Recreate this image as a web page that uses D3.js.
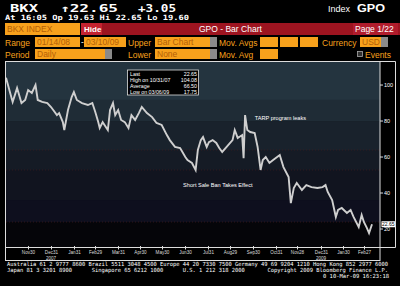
<!DOCTYPE html>
<html><head><meta charset="utf-8">
<script src="https://cdn.jsdelivr.net/npm/d3@7/dist/d3.min.js"></script>
<style>body{margin:0;background:#000;overflow:hidden;} svg{display:block;}</style>
</head><body><script>
// BKX daily closes
var dates = ["2007-10-31","2007-11-09","2007-11-15","2007-11-21","2007-11-26","2007-11-30","2007-12-05","2007-12-10","2007-12-13","2007-12-19",
  "2007-12-26","2007-12-31","2008-01-03","2008-01-08","2008-01-11","2008-01-16","2008-01-18","2008-01-23","2008-01-28","2008-01-31",
  "2008-02-04","2008-02-11","2008-02-19","2008-02-25","2008-02-29","2008-03-04","2008-03-06","2008-03-10","2008-03-17","2008-03-20",
  "2008-03-24","2008-03-27","2008-03-31","2008-04-04","2008-04-09","2008-04-14","2008-04-18","2008-04-23","2008-04-28","2008-05-02",
  "2008-05-09","2008-05-16","2008-05-22","2008-05-29","2008-06-05","2008-06-09","2008-06-16","2008-06-23","2008-06-30","2008-07-03",
  "2008-07-09","2008-07-14","2008-07-17","2008-07-21","2008-07-24","2008-07-29","2008-08-01","2008-08-06","2008-08-11","2008-08-15",
  "2008-08-19","2008-08-25","2008-09-02","2008-09-05","2008-09-09","2008-09-15","2008-09-17","2008-09-19","2008-09-22","2008-09-26",
  "2008-10-02","2008-10-06","2008-10-10","2008-10-13","2008-10-17","2008-10-22","2008-10-27","2008-11-05","2008-11-10","2008-11-17",
  "2008-11-20","2008-11-24","2008-11-28","2008-12-05","2008-12-11","2008-12-18","2008-12-26","2009-01-02","2009-01-06","2009-01-09",
  "2009-01-15","2009-01-20","2009-01-23","2009-01-28","2009-02-04","2009-02-09","2009-02-13","2009-02-20","2009-02-24","2009-02-27",
  "2009-03-03","2009-03-06","2009-03-10"];
var closes = [104.1,90.6,98.3,90.0,91.7,97.2,95.6,100.0,91.7,90.6,
  90.0,87.8,86.1,83.3,84.4,79.4,75.0,86.1,93.3,96.1,
  91.7,90.0,88.9,90.0,85.0,79.4,76.1,79.4,75.0,86.1,
  90.0,83.3,86.1,80.6,79.4,76.1,83.3,80.6,84.4,87.8,
  84.4,82.2,78.9,77.8,72.2,69.4,65.6,65.0,60.0,58.3,
  56.7,52.8,63.9,69.4,71.1,65.6,68.3,69.4,67.8,65.0,
  62.8,65.6,69.4,75.0,70.6,72.2,59.4,83.3,75.0,73.9,
  73.3,65.6,52.8,58.3,60.0,56.7,58.3,61.1,54.4,48.9,
  34.4,42.8,45.6,41.7,44.4,43.3,42.8,43.3,44.4,40.6,
  36.1,26.7,30.6,31.7,28.9,30.6,26.7,21.1,27.8,23.9,
  20.6,17.75,22.65];

var tickDates = ["2007-11-30","2007-12-31","2008-01-31","2008-02-29","2008-03-31","2008-04-30","2008-05-30","2008-06-30",
  "2008-07-31","2008-08-29","2008-09-30","2008-10-31","2008-11-28","2008-12-31","2009-01-30","2009-02-27"];
var tickLabels = ["Nov30","Dec31","Jan31","Feb29","Mar31","Apr30","May30","Jun30",
  "Jul31","Aug29","Sep30","Oct31","Nov28","Dec31","Jan30","Feb27"];
var yearDates = ["2007-12-31","2008-12-31"];
var yearLabels = ["2007","2009"];
var yTicks = [20, 40, 60, 80, 100];

var statLabels = ["Last", "High on 10/31/07", "Average", "Low on 03/06/09"];
var statValues = ["22.65", "104.08", "66.50", "17.75"];

var noteTexts = ["TARP program leaks", "Short Sale Ban Takes Effect"];
var noteDates = ["2008-10-02", "2008-06-27"];
var noteValues = [80.5, 43.5];

var lastPrice = 22.65;

var parse = d3.timeParse("%Y-%m-%d");
var W = 400, H = 286;
var svg = d3.select("body").append("svg").attr("width", W).attr("height", H)
  .style("background", "#000");

var mono = "'DejaVu Sans Mono', monospace";
var sans = "'Liberation Sans', Arial, sans-serif";
var orange = "#f7a11c", boxText = "#b45f06", red = "#9d1420";

// ---- header ----
function head(px, t, len) {
  svg.append("text").attr("x", px).attr("y", 11.5).text(t)
    .attr("fill", "#fff").attr("font-family", mono).attr("font-weight", "bold").attr("font-size", 10)
    .attr("textLength", len).attr("lengthAdjust", "spacingAndGlyphs");
}
head(10, "BKX", 28);
head(60, "\u219122.65", 58);
head(138, "+3.05", 38);
svg.append("text").attr("x", 5).attr("y", 19.5).text("At 16:05  Op 19.63 Hi 22.65 Lo 19.60")
  .attr("fill", "#fff").attr("font-family", mono).attr("font-weight", "bold").attr("font-size", 7.2)
  .attr("textLength", 184).attr("lengthAdjust", "spacingAndGlyphs");
svg.append("text").attr("x", 328).attr("y", 12).text("Index")
  .attr("fill", "#fff").attr("font-family", sans).attr("font-size", 9);
svg.append("text").attr("x", 357).attr("y", 12).text("GPO")
  .attr("fill", "#fff").attr("font-family", sans).attr("font-weight", "bold").attr("font-size", 11)
  .attr("textLength", 28).attr("lengthAdjust", "spacingAndGlyphs");

// ---- control rows ----
svg.append("rect").attr("x", 5).attr("y", 23).attr("width", 75).attr("height", 12).attr("fill", orange);
svg.append("text").attr("x", 7).attr("y", 32).text("BKX INDEX").attr("fill", boxText)
  .attr("font-family", sans).attr("font-size", 8.5);
svg.append("rect").attr("x", 81).attr("y", 23).attr("width", 319).attr("height", 12).attr("fill", red);
svg.append("rect").attr("x", 81).attr("y", 23).attr("width", 21).attr("height", 12).attr("fill", "#c42230");
svg.append("text").attr("x", 84).attr("y", 32).text("Hide").attr("fill", "#fff")
  .attr("font-family", sans).attr("font-weight", "bold").attr("font-size", 8);
svg.append("text").attr("x", 199).attr("y", 32).text("GPO - Bar Chart").attr("fill", "#fff")
  .attr("font-family", sans).attr("font-size", 8.5);
svg.append("rect").attr("x", 353).attr("y", 23).attr("width", 45).attr("height", 12).attr("fill", "#b01c2c");
svg.append("text").attr("x", 355).attr("y", 32).text("Page 1/22").attr("fill", "#fff")
  .attr("font-family", sans).attr("font-size", 8.5);

function label(px, py, t) {
  svg.append("text").attr("x", px).attr("y", py).text(t).attr("fill", orange)
    .attr("font-family", sans).attr("font-size", 8.5);
}
function box(px, py, w, t, grey) {
  svg.append("rect").attr("x", px).attr("y", py).attr("width", w).attr("height", 10).attr("fill", orange);
  if (grey) svg.append("rect").attr("x", px + w - 7).attr("y", py).attr("width", 7).attr("height", 10).attr("fill", "#8a8a8a");
  if (t) svg.append("text").attr("x", px + 2).attr("y", py + 8).text(t).attr("fill", boxText)
    .attr("font-family", sans).attr("font-size", 8.5);
}
label(5, 45.5, "Range");
box(35, 37, 45, "01/14/08");
svg.append("text").attr("x", 81).attr("y", 45).text("-").attr("fill", "#fff").attr("font-family", sans).attr("font-size", 8.5);
box(84, 37, 42, "03/10/09");
label(128, 45.5, "Upper");
box(155, 37, 62, "Bar Chart", true);
label(219, 45.5, "Mov. Avgs");
box(260, 37, 18); box(280, 37, 18); box(300, 37, 18);
label(322, 45.5, "Currency");
box(360, 37, 28, "USD", true);

label(5, 57.5, "Period");
box(35, 49, 77, "Daily", true);
label(128, 57.5, "Lower");
box(155, 49, 62, "None", true);
label(219, 57.5, "Mov. Avg");
box(260, 49, 18);
svg.append("rect").attr("x", 357.5).attr("y", 51.5).attr("width", 5).attr("height", 5)
  .attr("fill", "#333").attr("stroke", "#aaa").attr("stroke-width", 0.8);
label(365, 57.5, "Events");

// ---- chart ----
var plotL = 6, plotR = 380, plotT = 62, plotB = 247;
var x = d3.scaleTime().domain([parse("2007-10-31"), parse("2009-03-10")]).range([6, 372]);
var y = d3.scaleLinear().domain([10, 112.8]).range([plotB, plotT]);

// banded background fading from slate to black
var bands = [
  [112.8, 91.7, "#24343f"], [91.7, 80, "#1f2c36"], [80, 63.9, "#19222c"],
  [63.9, 52.8, "#151b25"], [52.8, 36.1, "#11141f"], [36.1, 23.9, "#0e0f1e"], [23.9, 10, "#050509"]
];
svg.selectAll("rect.band").data(bands).enter().append("rect").attr("class", "band")
  .attr("x", plotL).attr("width", plotR - plotL)
  .attr("y", function(d) { return y(d[0]); })
  .attr("height", function(d) { return y(d[1]) - y(d[0]); })
  .attr("fill", function(d) { return d[2]; });
[63.9, 52.8, 23.9].forEach(function(v) {
  svg.append("line").attr("x1", plotL).attr("x2", plotR).attr("y1", y(v)).attr("y2", y(v))
    .attr("stroke", "#3a1c20").attr("stroke-dasharray", "1,2").attr("stroke-width", 0.8);
});

var series = dates.map(function(d, i) { return { date: parse(d), close: closes[i] }; });
var line = d3.line().x(function(d) { return x(d.date); }).y(function(d) { return y(d.close); });
svg.append("path").datum(series).attr("d", line).attr("fill", "none")
  .attr("stroke", "#cfcfcf").attr("stroke-width", 1.9).attr("stroke-linejoin", "miter");

// annotations
svg.selectAll("text.note").data(noteTexts).enter().append("text").attr("class", "note")
  .attr("x", function(d, i) { return x(parse(noteDates[i])); })
  .attr("y", function(d, i) { return y(noteValues[i]); })
  .text(function(d) { return d; })
  .attr("fill", "#fff").attr("font-family", sans).attr("font-size", 5.6);

// stats box
svg.append("rect").attr("x", 127.5).attr("y", 70).attr("width", 71).attr("height", 25)
  .attr("fill", "#000").attr("stroke", "#ddd").attr("stroke-width", 0.8);
statLabels.forEach(function(t, i) {
  svg.append("text").attr("x", 130).attr("y", 76 + i * 6).text(t)
    .attr("fill", "#fff").attr("font-family", sans).attr("font-size", 5.3);
  svg.append("text").attr("x", 197).attr("y", 76 + i * 6).text(statValues[i]).attr("text-anchor", "end")
    .attr("fill", "#fff").attr("font-family", sans).attr("font-size", 5.3);
});

// frames
svg.append("rect").attr("x", 5.5).attr("y", 61.5).attr("width", 374.5).attr("height", 199)
  .attr("fill", "none").attr("stroke", "#ddd").attr("stroke-width", 1);
svg.append("path").attr("d", "M380,61.5H395.5V247.5H380").attr("fill", "none").attr("stroke", "#ddd");

// y axis on the right
var yAxis = svg.append("g");
yTicks.forEach(function(v) {
  yAxis.append("line").attr("x1", 380).attr("x2", 383).attr("y1", y(v)).attr("y2", y(v)).attr("stroke", "#ddd");
  yAxis.append("text").attr("x", 384).attr("y", y(v) + 2).text(v)
    .attr("fill", "#fff").attr("font-family", sans).attr("font-size", 5.5);
});
svg.append("rect").attr("x", 381.5).attr("y", y(lastPrice) - 3).attr("width", 13.5).attr("height", 6).attr("fill", "#fff");
svg.append("text").attr("x", 388.2).attr("y", y(lastPrice) + 2).attr("text-anchor", "middle").text(lastPrice.toFixed(2))
  .attr("fill", "#000").attr("font-family", sans).attr("font-size", 5);

// x axis
svg.append("line").attr("x1", plotL).attr("x2", plotR).attr("y1", 247.5).attr("y2", 247.5).attr("stroke", "#ddd");
tickDates.forEach(function(d, i) {
  var px = Math.round(x(parse(d))) + 0.5;
  svg.append("line").attr("x1", px).attr("x2", px).attr("y1", 246).attr("y2", 249.5).attr("stroke", "#ddd");
  svg.append("text").attr("x", px).attr("y", 254).attr("text-anchor", "middle").text(tickLabels[i])
    .attr("fill", "#ddd").attr("font-family", sans).attr("font-size", 4.6);
});
yearDates.forEach(function(d, i) {
  svg.append("text").attr("x", x(parse(d))).attr("y", 259.5).attr("text-anchor", "middle").text(yearLabels[i])
    .attr("fill", "#ddd").attr("font-family", sans).attr("font-size", 4.6);
});

// footer
var foot = [
  ["Australia 61 2 9777 8600 Brazil 5511 3048 4500 Europe 44 20 7330 7500 Germany 49 69 9204 1210 Hong Kong 852 2977 6000", 7, 266, 381],
  ["Japan 81 3 3201 8900      Singapore 65 6212 1000      U.S. 1 212 318 2000       Copyright 2009 Bloomberg Finance L.P.", 7, 272, 381],
  ["0 10-Mar-09 16:23:18", 323, 278, 66]
];
foot.forEach(function(f) {
  svg.append("text").attr("x", f[1]).attr("y", f[2]).text(f[0]).attr("xml:space", "preserve")
    .attr("fill", "#fff").attr("font-family", mono).attr("font-size", 5.6)
    .attr("textLength", f[3]).attr("lengthAdjust", "spacingAndGlyphs");
});
</script></body></html>
